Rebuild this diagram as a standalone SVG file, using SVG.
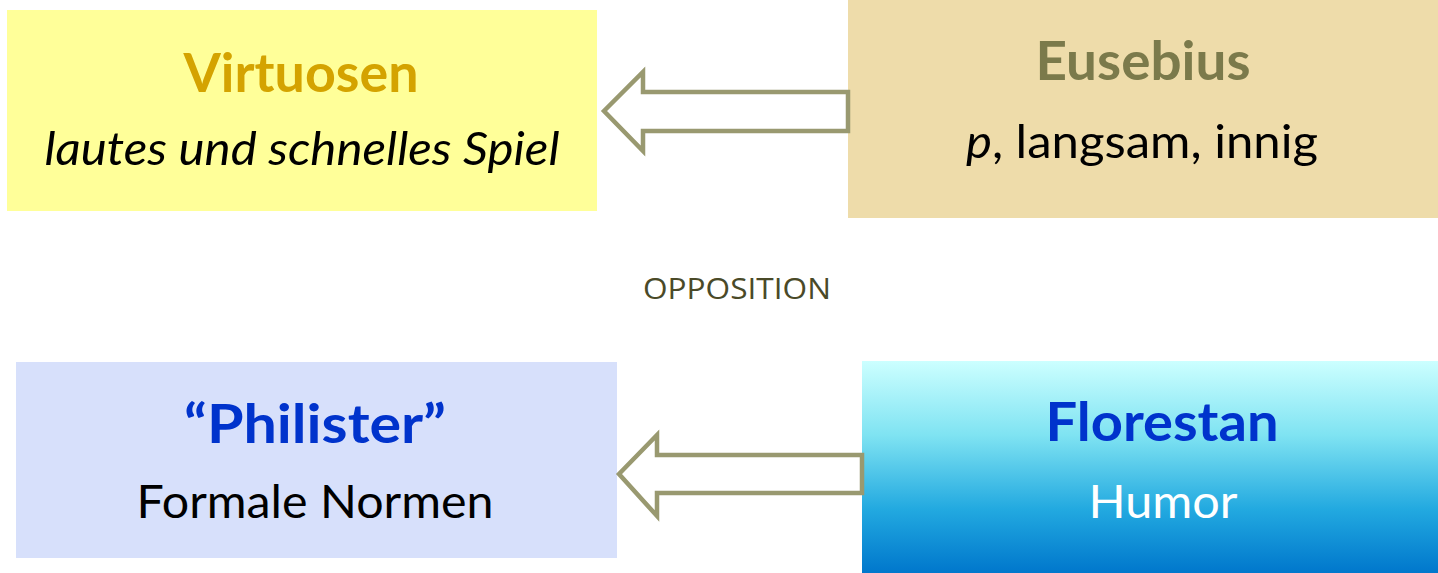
<svg xmlns="http://www.w3.org/2000/svg" width="1438" height="573" viewBox="0 0 1438 573">
<defs>
<linearGradient id="flo" x1="0" y1="0" x2="0" y2="1">
<stop offset="0" stop-color="#ccffff"/>
<stop offset="0.35" stop-color="#7fe3f2"/>
<stop offset="0.7" stop-color="#22a9e0"/>
<stop offset="1" stop-color="#0077cc"/>
</linearGradient>
<style>
.t{font-family:Lato,"Open Sans","DejaVu Sans",sans-serif;text-anchor:middle}
.h{font-weight:bold;font-size:53px}
.s{font-size:47px}
.o{font-family:"Open Sans","DejaVu Sans",sans-serif;font-size:29px;text-anchor:middle}
.arr{fill:#ffffff;stroke:#999970;stroke-width:4.5}
</style>
</defs>
<g id="virtuosen">
<rect x="7" y="10" width="590" height="201" fill="#ffff99"/>
<text class="t h" x="301" y="92" fill="#d4a300" textLength="235" lengthAdjust="spacingAndGlyphs">Virtuosen</text>
<text class="t s" x="302" y="165" font-style="italic" fill="#000" textLength="515" lengthAdjust="spacingAndGlyphs">lautes und schnelles Spiel</text>
</g>
<g id="eusebius">
<rect x="848" y="0" width="590" height="218" fill="#eedcaa"/>
<text class="t h" x="1143" y="80" fill="#7b7a4b" textLength="215" lengthAdjust="spacingAndGlyphs">Eusebius</text>
<text class="t s" x="1142" y="158" fill="#000" textLength="352" lengthAdjust="spacingAndGlyphs"><tspan font-style="italic">p</tspan>, langsam, innig</text>
</g>
<g id="philister">
<rect x="16" y="362" width="601" height="196" fill="#d7e0fb"/>
<text class="t h" x="315" y="443" fill="#0033cc" textLength="262" lengthAdjust="spacingAndGlyphs">“Philister”</text>
<text class="t s" x="315" y="518" fill="#000" textLength="357" lengthAdjust="spacingAndGlyphs">Formale Normen</text>
</g>
<g id="florestan">
<rect x="862" y="361" width="576" height="212" fill="url(#flo)"/>
<text class="t h" x="1162" y="441" fill="#0033cc" textLength="233" lengthAdjust="spacingAndGlyphs">Florestan</text>
<text class="t s" x="1163" y="518" fill="#ffffff" textLength="149" lengthAdjust="spacingAndGlyphs">Humor</text>
</g>
<text class="o" x="737" y="299" fill="#4a4a28" textLength="188" lengthAdjust="spacingAndGlyphs">OPPOSITION</text>
<g id="connectors">
<path class="arr" d="M848,92 L643,92 L643,72 L604,111 L643,151 L643,131 L848,131 Z"/>
<path class="arr" d="M862,455 L657,455 L657,435 L619,474 L657,516 L657,493 L862,493 Z"/>
</g>
</svg>
